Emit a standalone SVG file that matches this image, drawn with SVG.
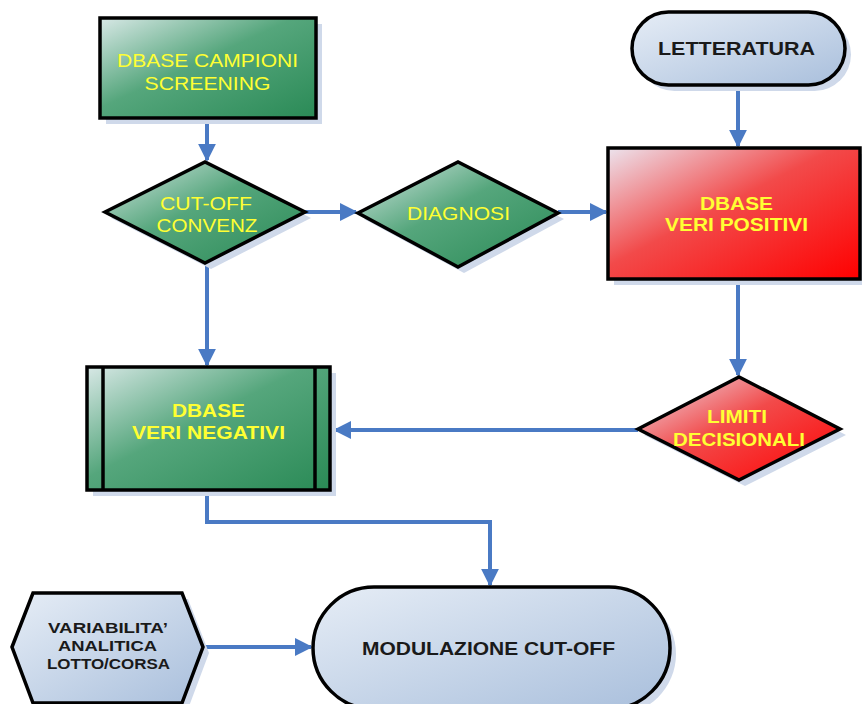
<svg xmlns="http://www.w3.org/2000/svg" width="862" height="704" viewBox="0 0 862 704">
<defs>
<linearGradient id="gGreen" x1="0" y1="0" x2="1" y2="1">
<stop offset="0" stop-color="#d8e8e6"/>
<stop offset="0.45" stop-color="#55a67c"/>
<stop offset="1" stop-color="#2a8a56"/>
</linearGradient>
<linearGradient id="gRed" x1="0" y1="0" x2="1" y2="1">
<stop offset="0" stop-color="#ece4ee"/>
<stop offset="0.45" stop-color="#f24a4a"/>
<stop offset="1" stop-color="#ff0000"/>
</linearGradient>
<linearGradient id="gBlue" x1="0" y1="0" x2="1" y2="1">
<stop offset="0" stop-color="#e6edf6"/>
<stop offset="1" stop-color="#a9bfdc"/>
</linearGradient>
<marker id="arr" viewBox="0 0 10 10" refX="9" refY="5" markerWidth="4.5" markerHeight="4.5" orient="auto" markerUnits="strokeWidth">
<path d="M0,0 L10,5 L0,10 z" fill="#4a7ac4"/>
</marker>
<style>
.sh{fill:#cfd9ea;stroke:none}
.nd{stroke:#000;stroke-width:3.5}
.g{fill:url(#gGreen)}
.r{fill:url(#gRed)}
.b{fill:url(#gBlue)}
.ty{fill:#ffff33;font-family:"Liberation Sans",Arial,sans-serif;font-size:18px;text-anchor:middle}
.tyb{fill:#ffff33;font-family:"Liberation Sans",Arial,sans-serif;font-size:18px;font-weight:bold;text-anchor:middle}
.tk{fill:#1a1a1a;font-family:"Liberation Sans",Arial,sans-serif;font-size:18px;font-weight:bold;text-anchor:middle}
.tks{fill:#1a1a1a;font-family:"Liberation Sans",Arial,sans-serif;font-size:15px;font-weight:bold;text-anchor:middle}
.cn{fill:none;stroke:#4a7ac4;stroke-width:4;marker-end:url(#arr)}
</style>
</defs>
<rect width="862" height="704" fill="#ffffff"/>

<g id="connectors">
<path class="cn" d="M207,118 L207,160"/>
<path class="cn" d="M305,212 L356,212"/>
<path class="cn" d="M558,212 L606,212"/>
<path class="cn" d="M738,85 L738,146"/>
<path class="cn" d="M738,279 L738,375"/>
<path class="cn" d="M638,430 L335,430"/>
<path class="cn" d="M207,263 L207,365"/>
<path class="cn" d="M207,490 L207,522 L490,522 L490,585"/>
<path class="cn" d="M203,647 L311,647"/>
</g>

<g id="dbase-campioni">
<rect class="sh" x="106" y="24" width="216" height="100"/>
<rect class="nd g" x="100" y="18" width="216" height="100"/>
<text class="ty" x="207.5" y="67" textLength="181" lengthAdjust="spacingAndGlyphs">DBASE CAMPIONI</text>
<text class="ty" x="207.5" y="90" textLength="126" lengthAdjust="spacingAndGlyphs">SCREENING</text>
</g>

<g id="cutoff">
<polygon class="sh" points="111,218 211,168 311,218 211,269"/>
<polygon class="nd g" points="105,212 205,162 305,212 205,263"/>
<text class="ty" x="206" y="210" textLength="92" lengthAdjust="spacingAndGlyphs">CUT-OFF</text>
<text class="ty" x="207" y="232" textLength="101" lengthAdjust="spacingAndGlyphs">CONVENZ</text>
</g>

<g id="diagnosi">
<polygon class="sh" points="364,219 464,168 564,219 464,273"/>
<polygon class="nd g" points="358,213 458,162 558,213 458,267"/>
<text class="ty" x="458.5" y="220" textLength="103" lengthAdjust="spacingAndGlyphs">DIAGNOSI</text>
</g>

<g id="letteratura">
<rect class="sh" x="638" y="18" width="213" height="73" rx="36.5"/>
<rect class="nd b" x="632" y="12" width="213" height="73" rx="36.5"/>
<text class="tk" x="736.5" y="55" textLength="157" lengthAdjust="spacingAndGlyphs">LETTERATURA</text>
</g>

<g id="veri-positivi">
<rect class="sh" x="614" y="154" width="252" height="131"/>
<rect class="nd r" x="608" y="148" width="252" height="131"/>
<text class="tyb" x="736.5" y="210" textLength="73" lengthAdjust="spacingAndGlyphs">DBASE</text>
<text class="tyb" x="736.5" y="231" textLength="143" lengthAdjust="spacingAndGlyphs">VERI POSITIVI</text>
</g>

<g id="limiti">
<polygon class="sh" points="644,435 745,383 846,435 745,486"/>
<polygon class="nd r" points="638,429 739,377 840,429 739,480"/>
<text class="tyb" x="737" y="423" textLength="60" lengthAdjust="spacingAndGlyphs">LIMITI</text>
<text class="tyb" x="739" y="446" textLength="132" lengthAdjust="spacingAndGlyphs">DECISIONALI</text>
</g>

<g id="veri-negativi">
<rect class="sh" x="93" y="373" width="243" height="123"/>
<rect class="nd g" x="87" y="367" width="243" height="123"/>
<line class="nd" x1="103" y1="367" x2="103" y2="490"/>
<line class="nd" x1="315" y1="367" x2="315" y2="490"/>
<text class="tyb" x="208.5" y="417" textLength="73" lengthAdjust="spacingAndGlyphs">DBASE</text>
<text class="tyb" x="208.5" y="439" textLength="153" lengthAdjust="spacingAndGlyphs">VERI NEGATIVI</text>
</g>

<g id="variabilita">
<polygon class="sh" points="18,653 39,599 188,599 209,653 188,709 39,709"/>
<polygon class="nd b" points="12,647 33,593 182,593 203,647 182,703 33,703"/>
<text class="tks" x="108" y="633" textLength="120" lengthAdjust="spacingAndGlyphs">VARIABILITA’</text>
<text class="tks" x="107.5" y="651" textLength="99" lengthAdjust="spacingAndGlyphs">ANALITICA</text>
<text class="tks" x="108.5" y="669" textLength="123" lengthAdjust="spacingAndGlyphs">LOTTO/CORSA</text>
</g>

<g id="modulazione">
<rect class="sh" x="319" y="593" width="357" height="122" rx="61"/>
<rect class="nd b" x="313" y="587" width="357" height="122" rx="61"/>
<text class="tk" x="488.5" y="655" textLength="253" lengthAdjust="spacingAndGlyphs">MODULAZIONE CUT-OFF</text>
</g>
</svg>
